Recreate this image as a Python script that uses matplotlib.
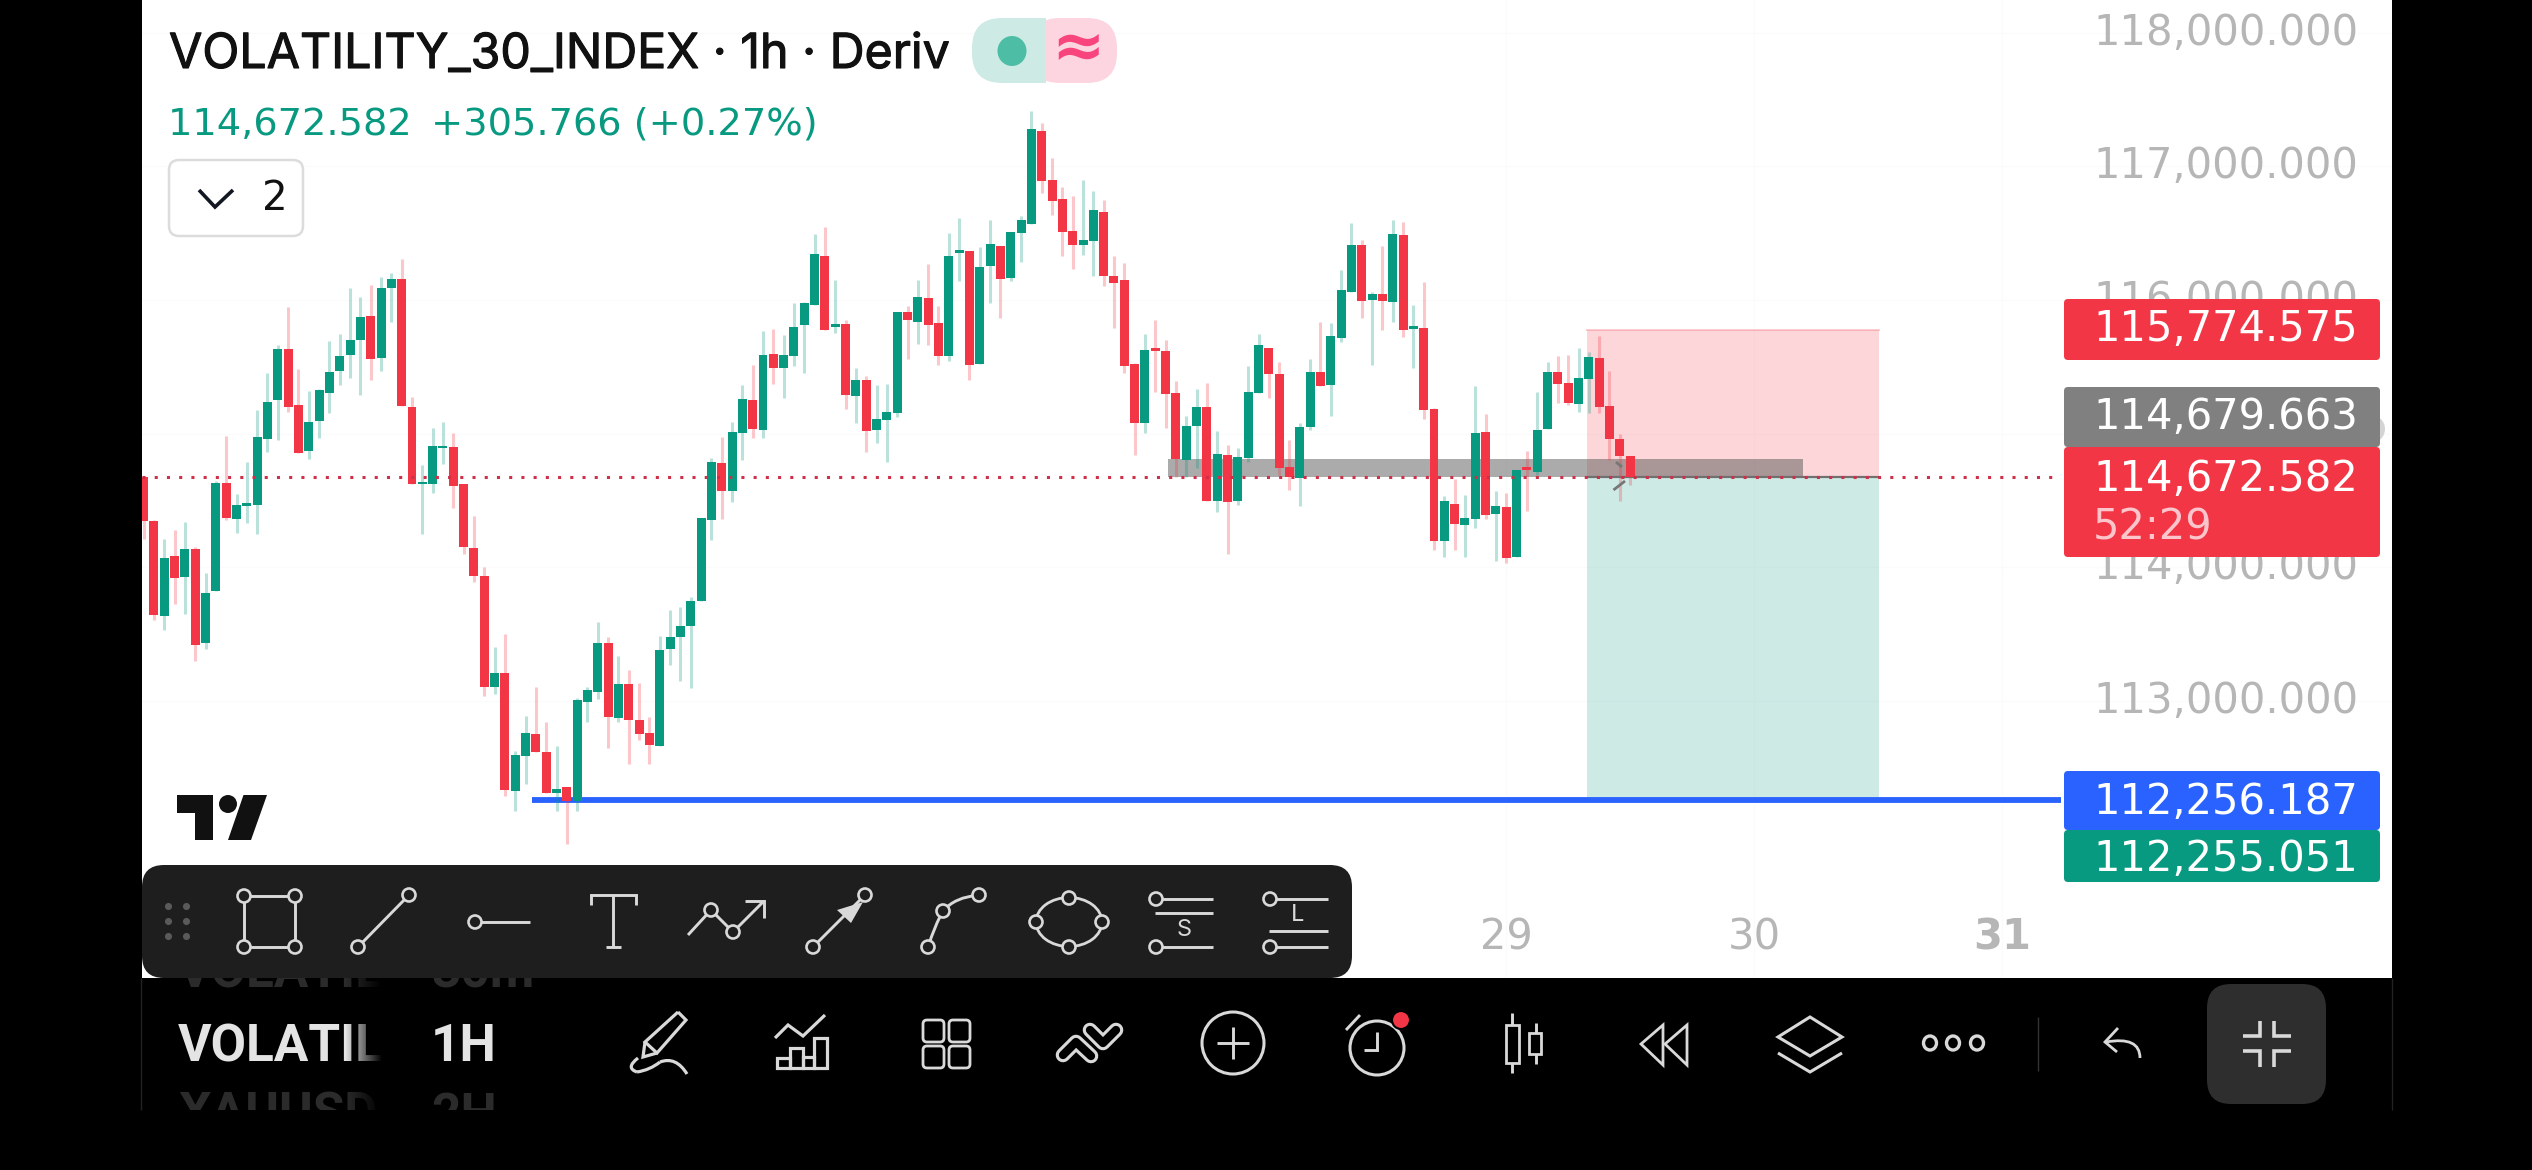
#!/usr/bin/env python3
import numpy as np
import matplotlib
matplotlib.use("Agg")
import matplotlib.pyplot as plt
import matplotlib.patheffects as pe
from matplotlib.patches import Circle, Ellipse, FancyBboxPatch, PathPatch, Polygon, Rectangle
from matplotlib.path import Path

plt.rcParams["font.family"] = ["Inter", "DejaVu Sans"]

opens = [
    114673, 114346, 113636, 114082, 113929, 114136, 113436, 113824, 114629, 114365,
    114462, 114466, 114963, 115253, 115633, 115213, 114872, 115097, 115303, 115470,
    115590, 115702, 115884, 115568, 116090, 116156, 115202, 114626, 114626, 114894,
    114897, 114622, 114147, 113937, 113106, 113208, 112327, 112591, 112751, 112620,
    112312, 112356, 112254, 112994, 113070, 113433, 112871, 113128, 112856, 112758,
    112667, 113389, 113480, 113563, 113748, 114354, 114780, 114573, 115007, 115252,
    115030, 115596, 115494, 115583, 115815, 115965, 116329, 115800, 115820, 115284,
    115401, 115030, 115104, 115157, 115910, 115838, 116015, 115828, 115583, 116354,
    116366, 115523, 116257, 116404, 116164, 116504, 116571, 117264, 116898, 116755,
    116516, 116414, 116444, 116658, 116179, 116149, 115521, 115082, 115641, 115618,
    115304, 114805, 115060, 115199, 114498, 114840, 114498, 114818, 115306, 115641,
    115446, 114750, 114670, 115050, 115461, 115364, 115718, 116060, 116411, 116002,
    116045, 115987, 116486, 115783, 115790, 115184, 114197, 114473, 114316, 114361,
    115012, 114399, 114451, 114077, 114750, 114713, 115035, 115461, 115379, 115222,
    115409, 115566, 115207, 114960, 114833,
]
highs = [
    114673, 114357, 114212, 114277, 114339, 114150, 113955, 114647, 114981, 114546,
    114792, 115180, 115452, 115662, 115945, 115488, 115318, 115336, 115691, 115746,
    116090, 116025, 116116, 116170, 116199, 116311, 115274, 114763, 115046, 115086,
    115003, 114622, 114386, 114006, 113407, 113505, 112628, 112889, 113106, 112842,
    112660, 112356, 113026, 113106, 113592, 113480, 113335, 113233, 113135, 112881,
    113487, 113679, 113705, 113777, 114369, 114822, 114972, 115087, 115364, 115513,
    115765, 115783, 115738, 115977, 115987, 116494, 116548, 116149, 115850, 115491,
    115431, 115364, 115371, 115910, 115957, 116149, 116269, 115957, 116501, 116616,
    116366, 116396, 116598, 116404, 116509, 116626, 117414, 117324, 117062, 116843,
    116778, 116898, 116815, 116748, 116329, 116277, 115531, 115745, 115850, 115701,
    115394, 115132, 115334, 115379, 115020, 114915, 114892, 115506, 115745, 115641,
    115536, 114952, 115080, 115558, 115835, 115828, 116224, 116576, 116449, 116060,
    116404, 116598, 116583, 115962, 116134, 115191, 114533, 114661, 114541, 115356,
    115147, 114571, 114556, 114728, 114870, 115311, 115536, 115581, 115588, 115638,
    115611, 115730, 115466, 114997, 114833,
]
lows = [
    114212, 113607, 113534, 113723, 113650, 113302, 113393, 113824, 114357, 114259,
    114332, 114248, 114865, 114955, 115166, 114857, 114810, 114966, 115155, 115365,
    115416, 115289, 115401, 115470, 115833, 115209, 114626, 114248, 114557, 114774,
    114448, 114100, 113893, 113041, 113052, 112290, 112174, 112381, 112617, 112312,
    112174, 111928, 112181, 112842, 113016, 112649, 112845, 112526, 112707, 112526,
    112667, 113273, 113153, 113095, 113748, 114204, 114361, 114491, 114802, 114967,
    114967, 115371, 115269, 115506, 115451, 115965, 115778, 115750, 115184, 115080,
    114865, 114927, 114790, 115127, 115556, 115671, 115663, 115513, 115546, 116142,
    115401, 115523, 115980, 115863, 116144, 116284, 116571, 116803, 116636, 116332,
    116232, 116337, 116182, 116107, 115790, 115456, 114840, 115002, 115314, 115045,
    114678, 114678, 114745, 114498, 114416, 114099, 114468, 114790, 115306, 115267,
    114690, 114578, 114459, 115027, 115356, 115132, 115688, 116060, 115865, 115516,
    115775, 115835, 115723, 115491, 115109, 114129, 114077, 114129, 114077, 114294,
    114361, 114047, 114032, 114077, 114421, 114690, 115035, 115232, 115214, 115162,
    115154, 115154, 114803, 114496, 114616,
]
closes = [
    114346, 113643, 114074, 113922, 114140, 113422, 113810, 114629, 114372, 114466,
    114480, 114974, 115235, 115633, 115202, 114857, 115086, 115325, 115463, 115583,
    115702, 115876, 115561, 116090, 116156, 115209, 114626, 114640, 114905, 114908,
    114611, 114154, 113937, 113106, 113208, 112334, 112599, 112758, 112620, 112312,
    112345, 112254, 113008, 113081, 113436, 112881, 113128, 112860, 112755, 112671,
    113385, 113480, 113563, 113748, 114369, 114788, 114573, 115012, 115259, 115037,
    115588, 115494, 115588, 115798, 115977, 116344, 115778, 115818, 115292, 115401,
    115022, 115107, 115162, 115910, 115853, 116022, 115815, 115583, 116329, 116371,
    115513, 116247, 116419, 116159, 116509, 116598, 117279, 116893, 116743, 116511,
    116414, 116449, 116673, 116182, 116129, 115508, 115082, 115626, 115621, 115299,
    114813, 115057, 115199, 114498, 114848, 114491, 114825, 115311, 115663, 115449,
    114745, 114678, 115050, 115461, 115356, 115730, 116075, 116411, 115992, 116045,
    115992, 116494, 115775, 115805, 115177, 114197, 114496, 114326, 114369, 115005,
    114391, 114459, 114069, 114728, 114728, 115027, 115461, 115371, 115229, 115416,
    115573, 115199, 114960, 114833, 114673,
]

price_ticks = [113000, 114000, 115000, 116000, 117000, 118000]
day_ticks = [132, 156, 180]
day_labels = ["29", "30", "31"]

last_price = 114672.582
entry_price = 114679.663
stop_price = 115774.575
target_price = 112256.187
bid_price = 112255.051
zone_top = 114811

GREEN = "#089981"
RED = "#F23645"
BLUE = "#2962FF"
GREY = "#808080"
ICON = "#d9d9d9"
NUM_FONT = "DejaVu Sans"
W, H = 2532, 1170

fig = plt.figure(figsize=(W / 100, H / 100), dpi=100, facecolor="black")

# chart area in pixels: 142..2392, 0..978
ax = fig.add_axes([142 / W, 1 - 978 / H, 2250 / W, 978 / H], facecolor="white")
ax.set_xlim(-0.155, 217.8)
ax.set_ylim(110928, 118245)
for s in ax.spines.values():
    s.set_visible(False)

idx = np.arange(len(opens))
o, h, l, c = map(np.asarray, (opens, highs, lows, closes))
cols = np.where(c >= o, GREEN, RED)

ax.grid(True, color="#fbfbfb", lw=1, zorder=0)
ax.set_axisbelow(True)

# position tool, zone, levels
ax.add_patch(Rectangle((139.8, last_price), 28.3, stop_price - last_price, fc=RED, alpha=0.2, lw=0, zorder=1))
ax.add_patch(Rectangle((139.8, target_price), 28.3, last_price - target_price, fc=GREEN, alpha=0.2, lw=0, zorder=1))
ax.plot([139.8, 168.1], [stop_price, stop_price], color=RED, alpha=0.25, lw=1.4, zorder=1)
ax.add_patch(Rectangle((99.2, last_price), 61.5, zone_top - last_price, fc="#505050", alpha=0.48, lw=0, zorder=2))
ax.plot([139.8, 168.1], [last_price, last_price], color="#707070", lw=1.6, zorder=2, solid_capstyle="butt")
ax.plot([37.6, 185.7], [target_price, target_price], color=BLUE, lw=4.2, zorder=2.5, solid_capstyle="butt")

ax.vlines(idx, l, h, colors=cols, lw=2.2, alpha=0.28, zorder=3)
ax.bar(idx, np.abs(c - o), bottom=np.minimum(o, c), width=0.87, color=cols, lw=0, zorder=4)

ax.plot([-0.155, 185.2], [last_price, last_price], color="#cf3049", lw=2.2,
        linestyle=(0, (1, 3)), zorder=5)

ax.yaxis.tick_right()
ax.set_yticks(price_ticks)
ax.set_yticklabels([f"{v:,.3f}" for v in price_ticks], fontsize=30, color="#b6b6b6", ha="left", va="center",
                   family=NUM_FONT)
ax.tick_params(axis="y", length=0, pad=-215)
ax.set_xticks(day_ticks)
ax.set_xticklabels(day_labels, fontsize=30, color="#b6b6b6", family=NUM_FONT)
ax.get_xticklabels()[-1].set_fontweight("bold")
ax.tick_params(axis="x", length=0, pad=-44)

# interface layer in screen pixels
ui = fig.add_axes([0, 0, 1, 1], facecolor="none")
ui.set_xlim(0, W)
ui.set_ylim(H, 0)
ui.axis("off")


def line(xs, ys, color=ICON, lw=2.1, **kw):
    ui.plot(xs, ys, color=color, lw=lw, solid_capstyle="butt", solid_joinstyle="miter", **kw)


def node(x, y, r=6.5):
    ui.add_patch(Circle((x, y), r, fc="#1e1e1e", ec=ICON, lw=1.9, zorder=6))


def box(x0, y0, x1, y1, color, rad=4, **kw):
    p = FancyBboxPatch((x0 + rad, y0 + rad), x1 - x0 - 2 * rad, y1 - y0 - 2 * rad,
                       boxstyle=f"round,pad={rad},rounding_size={rad}", fc=color, lw=0, **kw)
    ui.add_patch(p)
    return p


def curve(pts, color=ICON, lw=2.1):
    codes = [Path.MOVETO] + [Path.CURVE3] * (len(pts) - 1)
    ui.add_patch(PathPatch(Path(pts, codes), fc="none", ec=color, lw=lw, zorder=5))


def ribbon(xs, ys):
    ui.plot(xs, ys, color=ICON, lw=10.5, solid_capstyle="round", solid_joinstyle="round")
    ui.plot(xs, ys, color="black", lw=6, solid_capstyle="round", solid_joinstyle="round")


# header
ui.text(169, 55, "VOLATILITY_30_INDEX · 1h · Deriv", fontsize=34.8, color="#111111", va="center",
        path_effects=[pe.withStroke(linewidth=0.8, foreground="#111111")])
ui.text(168, 124, f"{last_price:,.3f}\u2002+305.766 (+0.27%)", fontsize=27.6, color=GREEN, va="center",
        family=NUM_FONT)
box(972, 18, 1060, 83, "#cdeae5", rad=30)
box(1030, 18, 1117, 83, "#fdd5e0", rad=30)
ui.add_patch(Rectangle((1000, 18), 45.5, 65, fc="#cdeae5", lw=0))
ui.add_patch(Ellipse((1012, 51), 29, 30, fc="#4dbda6", lw=0))
ui.text(1078, 49, "≈", fontsize=46, color="#f9457e", ha="center", va="center", fontweight="bold",
        family="DejaVu Sans")
ui.add_patch(FancyBboxPatch((179, 170), 114, 56, boxstyle="round,pad=10,rounding_size=10",
                            fc="white", ec="#dcdcdc", lw=1.8))
line([199, 215, 233], [190, 207, 190], color="#131722", lw=2.6)
ui.text(275, 199, "2", fontsize=29, color="#111111", ha="center", va="center", family=NUM_FONT)

# tradingview mark
ui.add_patch(Polygon([(177, 795), (213, 795), (213, 840), (195, 840), (195, 813), (177, 813)], fc="#111", lw=0))
ui.add_patch(Circle((228, 804), 9, fc="#111", lw=0))
ui.add_patch(Polygon([(243.5, 795), (267, 795), (251, 840), (228, 840)], fc="#111", lw=0))

# little cursor marks on the last bars
line([1616, 1622], [462, 467], color="#777", lw=2)
line([1613.5, 1625], [490, 481], color="#777", lw=2)

# price labels
ui.add_patch(Circle((2371, 429), 14, fc="#d4d4d4", lw=0))
label_x = 2093
for y0, y1, yt, col, val in [(299, 360, 329, RED, stop_price), (387, 447, 417, GREY, entry_price),
                             (771, 830, 802, BLUE, target_price), (830, 882, 859, GREEN, bid_price)]:
    box(2064, y0, 2380, y1, col, rad=4)
    ui.text(label_x, yt, f"{val:,.3f}", fontsize=30, color="white", va="center", family=NUM_FONT)
box(2064, 447, 2380, 557, RED, rad=4)
ui.text(label_x, 479, f"{last_price:,.3f}", fontsize=30, color="white", va="center", family=NUM_FONT)
ui.text(label_x, 528, "52:29", fontsize=30, color="#fbc5cb", va="center", family=NUM_FONT)

# drawing toolbar
box(142, 865, 1352, 978, "#1e1e1e", rad=22, zorder=2)
ui.scatter([168, 186] * 3, [906, 906, 921, 921, 936, 936], s=26, color="#5a5a5a", lw=0, zorder=6)
line([244, 295, 295, 244, 244], [896, 896, 947, 947, 896], zorder=5)
for x, y in [(244, 896), (295, 896), (244, 947), (295, 947)]:
    node(x, y)
line([358, 409], [947, 895], zorder=5)
node(358, 947)
node(409, 895)
line([475, 530], [922, 922], zorder=5)
node(475, 922)
line([591, 591, 636, 636], [905, 895, 895, 905], zorder=5)
line([613, 613], [895, 947], zorder=5)
line([606, 621], [947, 947], zorder=5)
line([688, 711, 733, 764], [935, 910, 932, 901], zorder=5)
line([745, 764, 764], [901, 901, 918], zorder=5)
node(711, 910)
node(733, 932)
line([813, 865], [947, 895], zorder=5)
ui.add_patch(Polygon([(863, 902), (837, 910), (851, 923)], fc=ICON, lw=0, zorder=5))
node(813, 947)
node(865, 895)
curve([(928, 947), (935, 925), (943, 911)])
curve([(943, 911), (955, 897), (979, 895)])
node(928, 947)
node(943, 911)
node(979, 895)
ui.add_patch(Ellipse((1069, 922), 66, 49, fc="none", ec=ICON, lw=2, zorder=5))
for x, y in [(1069, 898), (1036, 922), (1102, 922), (1069, 947)]:
    node(x, y)
line([1156, 1213], [899, 899], zorder=5)
line([1155, 1213], [913, 913], zorder=5)
line([1156, 1213], [947, 947], zorder=5)
node(1156, 899)
node(1156, 947)
ui.text(1184, 930, "S", fontsize=17, color=ICON, ha="center", va="center", zorder=6)
line([1270, 1328], [899, 899], zorder=5)
line([1269, 1328], [931, 931], zorder=5)
line([1270, 1328], [947, 947], zorder=5)
node(1270, 899)
node(1270, 947)
ui.text(1298, 915, "L", fontsize=17, color=ICON, ha="center", va="center", zorder=6)

# bottom bar: scrolling symbol picker
for txt, x, y, col in [("VOLATIL", 178, 1047, "#e4e4e4"), ("1H", 431, 1047, "#e4e4e4"),
                       ("VOLATIL", 178, 974, "#2b2b2b"), ("30m", 431, 974, "#2b2b2b"),
                       ("XAUUSD", 178, 1116, "#2b2b2b"), ("2H", 431, 1116, "#2b2b2b")]:
    xmax = 240 if txt in ("VOLATIL", "XAUUSD") else 400
    t = ui.text(x, y, txt, fontsize=37, color=col, va="center", fontweight="bold", family="Roboto")
    t.set_clip_path(Rectangle((142, 978), xmax, 132, transform=ui.transData))
    t.set_clip_on(True)
fade = np.zeros((1, 40, 4))
fade[..., 3] = np.linspace(0, 1, 40)
ui.imshow(fade, extent=(345, 382, 1110, 978), aspect="auto", zorder=3)
ui.set_xlim(0, W)
ui.set_ylim(H, 0)
line([141, 141], [978, 1110], color="#222", lw=1)
line([2392, 2392], [978, 1110], color="#222", lw=1)

# pencil
line([678, 686, 657, 645, 678], [1012, 1020, 1053, 1042, 1012], lw=2.3)
line([645, 643, 657], [1042, 1057, 1053], lw=2.3)
curve([(638, 1058), (625, 1068), (637, 1072)], lw=2.3)
curve([(637, 1072), (650, 1070), (660, 1062)], lw=2.3)
curve([(660, 1062), (676, 1056), (687, 1074)], lw=2.3)
# bars with a trend line
line([775, 788, 803, 825], [1038, 1025, 1036, 1015], lw=2.3)
for x0, x1, y0 in [(777, 790, 1058), (790, 803, 1048), (803, 814, 1057), (814, 827, 1038)]:
    ui.add_patch(Rectangle((x0, y0), x1 - x0, 1068 - y0, fc="none", ec=ICON, lw=2.3))
# panels
for x in (923, 949):
    for y in (1020, 1046):
        ui.add_patch(FancyBboxPatch((x + 4, y + 4), 13, 14, boxstyle="round,pad=4,rounding_size=4",
                                    fc="none", ec=ICON, lw=2))
# double chevron
ribbon([1063, 1076, 1091], [1055, 1042, 1056])
ribbon([1090, 1103, 1116], [1030, 1043, 1030])
# plus
ui.add_patch(Circle((1233, 1043), 31, fc="none", ec=ICON, lw=2.2))
line([1233, 1233], [1027, 1059])
line([1217, 1249], [1043, 1043])
# alarm
ui.add_patch(Circle((1377, 1048), 27, fc="none", ec=ICON, lw=2.2))
line([1346, 1360], [1030, 1015])
line([1377, 1377, 1364], [1032, 1050, 1050])
ui.add_patch(Circle((1401, 1020), 9, fc=RED, ec="black", lw=1.5))
# candles
line([1512, 1512], [1013, 1073])
ui.add_patch(Rectangle((1506, 1025), 13, 38, fc="black", ec=ICON, lw=2, zorder=4))
line([1536, 1536], [1023, 1064])
ui.add_patch(Rectangle((1529, 1033), 12, 21, fc="black", ec=ICON, lw=2, zorder=4))
# replay
ui.add_patch(Polygon([(1641, 1044), (1663, 1025), (1663, 1065)], fc="none", ec=ICON, lw=2))
ui.add_patch(Polygon([(1665, 1044), (1687, 1025), (1687, 1065)], fc="none", ec=ICON, lw=2))
# layers
ui.add_patch(Polygon([(1810, 1017), (1842, 1037), (1810, 1056), (1778, 1037)], fc="none", ec=ICON, lw=2.2))
line([1778, 1810, 1842], [1053, 1072, 1053], lw=2.2)
# more
for x in (1930, 1953, 1977):
    ui.add_patch(Ellipse((x, 1043), 13, 14, fc="none", ec=ICON, lw=2.4))
line([2038, 2038], [1017, 1071], color="#333", lw=1)
# undo
line([2118, 2105, 2117], [1028, 1042, 1052], lw=2)
curve([(2106, 1042), (2140, 1036), (2140, 1058)], lw=2)
# collapse
box(2207, 984, 2326, 1104, "#2e2e2e", rad=24)
line([2260, 2260, 2243], [1021, 1036, 1036], lw=2.6)
line([2274, 2274, 2291], [1021, 1036, 1036], lw=2.6)
line([2243, 2260, 2260], [1051, 1051, 1067], lw=2.6)
line([2291, 2274, 2274], [1051, 1051, 1067], lw=2.6)

fig.savefig("out.png", dpi=100, facecolor=fig.get_facecolor())
plt.close(fig)
